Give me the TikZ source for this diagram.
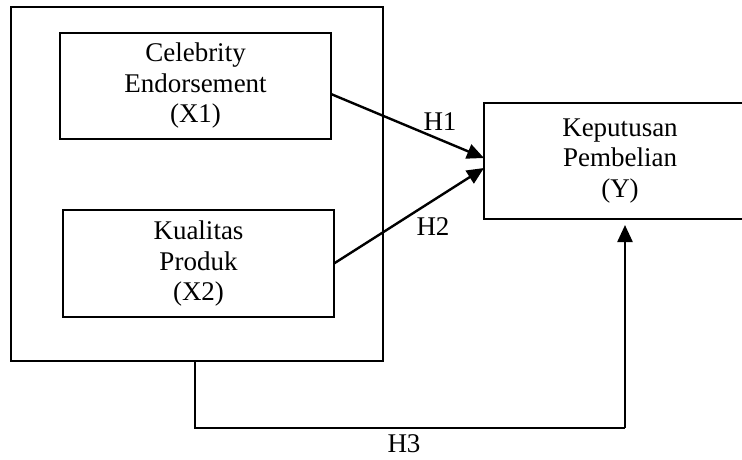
\documentclass[tikz,border=0pt]{standalone}
\usepackage{fontspec}
\setmainfont{Liberation Serif}
\usetikzlibrary{arrows.meta}
\begin{document}
\begin{tikzpicture}[x=1pt, y=-1pt,
        font=\fontsize{27}{30.5}\selectfont,
        varbox/.style={draw, line width=1.2pt, align=center, inner sep=0pt, outer sep=0pt},
        hyp/.style={line width=2.4pt, -{Triangle[length=17pt, width=15pt]}},
        hyplabel/.style={inner sep=0pt}]
    \useasboundingbox (0,0) rectangle (742,459);
    % group of independent variables
    \node[varbox, minimum width=372pt, minimum height=354pt] (grp) at (197,184) {};
    \node[varbox, minimum width=271pt, minimum height=106pt] (x1) at (195.5,86) {Celebrity\\Endorsement\\(X1)};
    \node[varbox, minimum width=271pt, minimum height=107pt] (x2) at (198.5,263.5) {Kualitas\\Produk\\(X2)};
    % dependent variable
    \node[varbox, minimum width=272pt, minimum height=116pt] (y) at (620,161) {Keputusan\\Pembelian\\(Y)};
    % hypotheses
    \draw[hyp] ([yshift=-8pt]x1.east) -- ([yshift=3pt]y.west);
    \draw[hyp] (x2.east) -- ([yshift=-7pt]y.west);
    \coordinate (c1) at (195,428);
    \coordinate (c2) at (625,428);
    \draw[line width=1.2pt] ([xshift=-2pt]grp.south) -- (c1) -- (c2);
    \draw[hyp] (c2) -- ([xshift=5pt, yshift=-6pt]y.south);
    \node[hyplabel] (h1) at (440,122) {H1};
    \node[hyplabel] (h2) at (433,227) {H2};
    \node[hyplabel] (h3) at (404,444) {H3};
\end{tikzpicture}
\end{document}
